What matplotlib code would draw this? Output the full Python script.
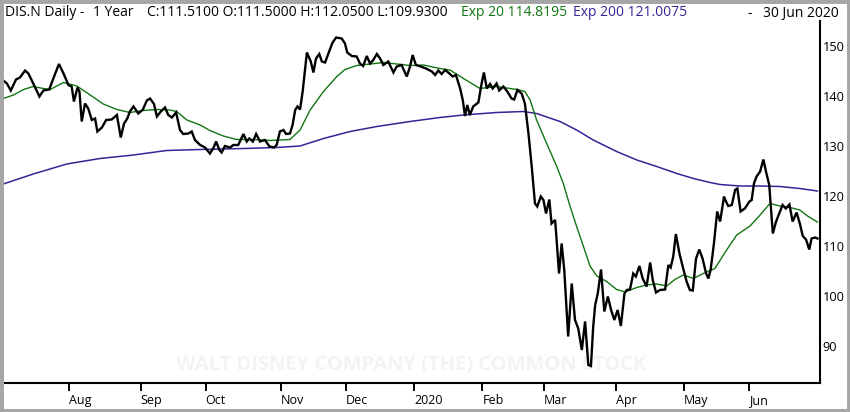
import matplotlib.pyplot as plt
import numpy as np
from matplotlib.patches import Rectangle

plt.rcParams['font.family'] = ['Open Sans', 'DejaVu Sans']

# trading days per month, Jul 2019 .. Jun 2020
month_days = [22, 22, 20, 23, 20, 21, 21, 19, 22, 21, 20, 22]
month_labels = ['Aug', 'Sep', 'Oct', 'Nov', 'Dec', '2020', 'Feb', 'Mar', 'Apr', 'May', 'Jun']

# close prices (x = trading day index from 1 Jul 2019)
price_day = [1.8, 2.9, 4.1, 5.7, 6.9, 8.5, 9.5, 11.0, 12.9, 14.1,
             15.9, 17.4, 18.9, 20.3, 21.8, 22.8, 23.5, 24.6, 25.2, 25.9,
             26.9, 27.9, 29.0, 30.0, 30.7, 32.1, 33.4, 35.1, 36.7, 37.9,
             38.9, 39.9, 40.7, 41.8, 43.3, 44.7, 45.9, 46.9, 48.1, 49.0,
             50.2, 51.5, 52.5, 53.6, 54.9, 56.1, 57.1, 58.7, 59.7, 60.7,
             62.3, 63.8, 65.3, 66.3, 67.2, 68.2, 68.9, 69.9, 71.5, 72.5,
             74.0, 75.6, 76.6, 77.4, 78.5, 79.5, 80.7, 82.2, 83.6, 85.0,
             85.8, 86.8, 87.9, 88.7, 89.9, 90.7, 91.5, 92.2, 93.0, 93.8,
             95.1, 96.3, 97.1, 97.9, 98.9, 99.7, 100.7, 101.7, 103.0, 104.1,
             105.8, 106.8, 107.5, 108.9, 110.4, 111.4, 112.4, 113.5, 114.5, 115.5,
             116.6, 117.6, 118.6, 120.1, 121.7, 122.7, 124.2, 125.8, 126.8, 127.6,
             128.6, 130.1, 131.7, 133.5, 134.5, 135.5, 136.5, 137.6, 138.9, 139.9,
             140.9, 142.2, 143.0, 143.7, 144.4, 145.2, 146.2, 147.8, 148.8, 149.5,
             150.4, 151.4, 152.2, 153.4, 154.2, 155.5, 156.7, 158.0, 158.8, 159.8,
             161.1, 162.1, 163.2, 164.2, 165.2, 165.9, 167.0, 167.8, 168.6, 169.6,
             170.3, 171.4, 172.6, 173.4, 174.2, 175.4, 176.5, 177.5, 178.5, 179.6,
             180.6, 181.6, 182.4, 183.1, 183.7, 184.5, 185.5, 186.5, 187.6, 188.6,
             189.6, 190.6, 191.6, 192.7, 193.4, 194.4, 195.4, 196.2, 197.3, 198.3,
             199.5, 200.6, 201.4, 202.4, 203.6, 205.2, 206.2, 206.9, 207.7, 208.5,
             209.6, 210.6, 211.8, 212.8, 213.7, 214.7, 215.7, 216.7, 217.8, 218.5,
             219.2, 220.2, 221.2, 222.1, 223.3, 223.9, 224.6, 225.7, 226.7, 227.4,
             228.4, 229.7, 231.1, 231.8, 232.5, 233.3, 234.4, 235.4, 236.2, 237.2,
             238.3, 239.3, 240.5, 241.3, 242.3, 243.4, 244.4, 245.6, 246.6, 247.5,
             248.5, 249.5, 250.2, 251.3, 252.0]
price = [143.1, 142.5, 141.1, 143.3, 143.7, 145.1, 144.5, 142.5, 139.9, 141.1,
         141.3, 143.9, 146.4, 144.5, 142.2, 141.9, 138.9, 141.7, 140.9, 134.9,
         138.5, 137.5, 135.2, 135.5, 132.9, 133.7, 135.2, 135.3, 136.2, 131.7,
         134.5, 135.5, 136.9, 137.9, 136.5, 137.3, 139.1, 139.5, 138.4, 135.9,
         136.9, 137.7, 136.2, 135.7, 136.7, 133.2, 132.4, 132.5, 132.9, 131.2,
         130.2, 129.7, 128.5, 129.5, 130.9, 129.2, 128.7, 130.0, 129.7, 130.2,
         130.2, 132.4, 130.9, 131.5, 130.9, 132.4, 130.9, 131.2, 129.9, 129.7,
         130.2, 132.9, 133.2, 132.4, 132.5, 134.2, 137.2, 137.9, 137.3, 140.9,
         148.7, 146.9, 144.7, 147.5, 148.4, 146.9, 146.7, 148.5, 150.7, 151.7,
         151.5, 150.5, 148.7, 148.0, 147.9, 146.5, 146.0, 148.0, 146.5, 147.2,
         148.4, 147.5, 146.2, 146.9, 144.7, 145.9, 146.2, 143.9, 145.9, 148.2,
         146.2, 145.9, 145.5, 144.9, 144.2, 145.1, 144.4, 145.2, 144.5, 143.9,
         144.2, 141.5, 139.2, 136.0, 138.2, 136.2, 137.9, 138.7, 142.5, 144.7,
         141.5, 142.4, 141.5, 142.5, 141.1, 141.9, 140.9, 139.5, 139.3, 141.2,
         140.5, 138.5, 132.5, 125.9, 118.5, 117.9, 119.9, 119.2, 116.5, 119.3,
         114.5, 115.2, 104.5, 110.5, 105.2, 91.9, 102.5, 95.2, 93.5, 89.2,
         94.9, 86.2, 86.0, 93.9, 98.2, 100.5, 105.3, 96.9, 99.9, 97.2,
         95.2, 97.2, 94.0, 100.5, 101.2, 101.3, 104.5, 103.9, 106.0, 103.5,
         101.9, 106.7, 103.2, 100.7, 101.2, 101.3, 106.2, 105.7, 107.9, 112.4,
         108.5, 105.9, 102.9, 101.2, 101.1, 107.5, 109.3, 107.5, 104.5, 103.5,
         105.3, 110.5, 116.9, 114.9, 119.9, 118.9, 118.0, 118.2, 121.2, 121.5,
         116.9, 117.5, 118.9, 119.2, 122.5, 123.9, 124.9, 127.3, 124.9, 122.2,
         112.5, 114.9, 116.9, 118.2, 117.5, 118.3, 114.9, 116.7, 114.5, 112.0,
         111.3, 109.3, 111.5, 111.7, 111.5]

# Exp 20
ema20_day = [1.8, 4.9, 8.0, 11.0, 14.1, 16.2, 20.3, 24.4, 28.5, 32.5,
             36.7, 40.7, 44.8, 49.0, 53.0, 55.1, 58.2, 62.3, 65.3, 69.4,
             73.5, 78.6, 83.8, 89.9, 93.0, 96.1, 100.2, 104.3, 106.8, 110.4,
             114.5, 118.6, 122.7, 126.8, 130.9, 136.0, 139.1, 143.2, 148.3, 153.4,
             159.6, 162.1, 163.7, 165.7, 168.8, 171.9, 173.9, 176.0, 178.0, 180.1,
             182.1, 184.2, 187.2, 190.3, 192.9, 196.5, 199.5, 202.6, 205.7, 208.2,
             210.8, 213.9, 216.9, 220.5, 224.1, 227.2, 231.3, 234.4, 237.4, 240.5,
             243.6, 246.6, 249.2, 252.0]
ema20 = [139.5, 140.2, 141.3, 141.9, 141.5, 141.3, 142.7, 142.0, 140.2, 138.4,
         137.3, 136.7, 137.1, 137.3, 137.2, 136.9, 135.2, 134.2, 133.1, 132.0,
         131.3, 131.3, 131.1, 131.3, 133.2, 137.2, 140.9, 143.9, 145.3, 146.1,
         146.4, 146.7, 146.4, 146.1, 146.2, 145.5, 145.2, 143.5, 141.5, 141.9,
         141.3, 140.9, 139.2, 135.2, 130.5, 125.9, 122.5, 117.9, 113.9, 109.9,
         106.0, 104.0, 102.9, 101.3, 100.8, 101.7, 102.2, 102.4, 102.0, 103.3,
         104.2, 103.5, 104.5, 105.5, 109.2, 112.2, 114.0, 116.2, 118.5, 118.0,
         117.7, 117.2, 115.9, 114.8]

# Exp 200
ema200_day = [1.8, 11.0, 21.3, 31.5, 41.8, 52.0, 62.3, 75.6, 85.8, 93.0,
              100.2, 108.4, 116.6, 126.8, 136.0, 143.2, 153.4, 161.6, 165.7, 172.9,
              178.0, 183.1, 190.3, 196.5, 202.6, 208.8, 213.9, 219.0, 222.1, 228.2,
              234.4, 240.5, 246.6, 252.0]
ema200 = [122.4, 124.4, 126.4, 127.5, 128.2, 129.1, 129.3, 129.5, 129.7, 130.0,
          131.5, 132.9, 133.9, 134.9, 135.7, 136.2, 136.7, 136.9, 136.5, 134.9,
          133.2, 131.2, 128.9, 127.2, 125.9, 124.5, 123.5, 122.7, 122.3, 122.0,
          122.0, 121.9, 121.5, 121.0]

W, H = 850, 412
fig = plt.figure(figsize=(W / 100, H / 100), dpi=100)
ax = fig.add_axes([3 / W, (H - 383) / H, (820 - 3) / W, (383 - 21) / H])

green = '#127512'
purple = '#3b2196'

ax.text(0.5, 0.05, 'WALT DISNEY COMPANY (THE) COMMON STOCK', transform=ax.transAxes,
        ha='center', va='center', fontsize=14.5, fontweight='bold', color='#f3f3f3', zorder=0)
ax.plot(ema200_day, ema200, color=purple, lw=1.1, zorder=2)
ax.plot(ema20_day, ema20, color=green, lw=1.0, zorder=2)
ax.plot(price_day, price, color='black', lw=1.7, zorder=3, solid_joinstyle='miter')

ax.set_xlim(1.7, 252.8)
ax.set_ylim(82.6, 155.0)

for s in ['left', 'top']:
    ax.spines[s].set_visible(False)
for s in ['right', 'bottom']:
    ax.spines[s].set_linewidth(1.5)

ax.yaxis.tick_right()
ax.set_yticks(range(90, 151, 10))
ax.tick_params(axis='y', length=0, pad=2, labelsize=9.2)

month_starts = np.cumsum(month_days)[:-1]
ax.set_xticks(month_starts, month_labels)
for lbl in ax.get_xticklabels():
    lbl.set_ha('left')
ax.tick_params(axis='x', length=6, width=1.4, pad=2, labelsize=9, direction='out')

# header
ty = 1 - 13 / H
fig.text(5 / W, ty, 'DIS.N Daily -', fontsize=10, va='center')
fig.text(93 / W, ty, '1 Year', fontsize=10, va='center')
fig.text(147 / W, ty, 'C:111.5100 O:111.5000 H:112.0500 L:109.9300', fontsize=10, va='center')
fig.text(461 / W, ty, 'Exp 20 114.8195', fontsize=10, va='center', color=green)
fig.text(573 / W, ty, 'Exp 200 121.0075', fontsize=10, va='center', color=purple)
fig.text(748 / W, ty, '-', fontsize=10, va='center')
fig.text(763 / W, ty, '30 Jun 2020', fontsize=10, va='center')

fig.patches.append(Rectangle((0, 0), 1, 1, transform=fig.transFigure, fill=False,
                             edgecolor='#a6a6a6', lw=5))

fig.savefig('out.png', dpi=100)
